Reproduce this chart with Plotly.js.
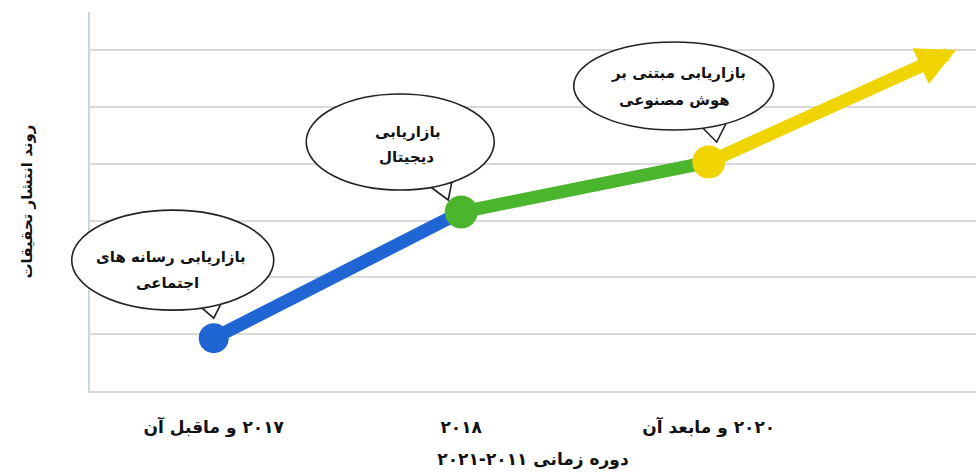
<!DOCTYPE html>
<html>
<head>
<meta charset="utf-8">
<script src="https://cdn.plot.ly/plotly-3.0.1.min.js"></script>
<style>html,body{margin:0;padding:0;background:#fff;}#chart{width:976px;height:476px;}</style>
</head>
<body>
<div id="chart"></div>
<script>
// ---- data ----
const categories = ['۲۰۱۷ و ماقبل آن', '۲۰۱۸', '۲۰۲۰ و مابعد آن'];
const trendValues = [0.93, 3.15, 4.03];
const arrowTipX = [3];
const arrowTipY = [6.0];
const stageColors = ['#1f66d4', '#4cb52e', '#f0d400'];
const bubbleLine1 = ['بازاریابی رسانه های', 'بازاریابی', 'بازاریابی مبتنی بر'];
const bubbleLine2 = ['اجتماعی', 'دیجیتال', 'هوش مصنوعی'];
const xTitle = 'دوره زمانی ۲۰۱۱-۲۰۲۱';
const yTitle = 'روند انتشار تحقیقات';

const xs = categories.map((_, i) => i);
const FONT = 'DejaVu Sans, Arial, sans-serif';
const RLM = '\u200F';
const xRange = [-0.5, 3.08];
const yRange = [0, 6.67];
const toPaperX = v => (v - xRange[0]) / (xRange[1] - xRange[0]);
const toPaperY = v => (v - yRange[0]) / (yRange[1] - yRange[0]);

// line segments
const traces = [];
for (let i = 0; i < xs.length - 1; i++) {
  traces.push({
    x: [xs[i], xs[i + 1]], y: [trendValues[i], trendValues[i + 1]],
    mode: 'lines', line: {color: stageColors[i], width: 13},
    hoverinfo: 'skip', showlegend: false
  });
}
traces.push({
  x: xs, y: trendValues, mode: 'markers',
  marker: {color: stageColors, size: [30, 33, 33], opacity: 1, line: {width: 0}},
  showlegend: false, hoverinfo: 'skip'
});

// bubble geometry (pixel offsets relative to each point, +y up)
const bub = [
  {cx: -41, cy: 78, rx: 101, ry: 50, tail: [[-21, 38], [0, 20], [11, 42]], t1: [-43, 81], t2: [-46, 55]},
  {cx: -61, cy: 70, rx: 94, ry: 48, tail: [[-40, 32], [-13, 12], [-8, 37]], t1: [-53, 80], t2: [-55, 55]},
  {cx: -35, cy: 76, rx: 100, ry: 44, tail: [[-12, 40], [8, 20], [21, 46]], t1: [-30, 89], t2: [-34, 62]}
];

const shapes = [];
const annotations = [];
xs.forEach((xv, i) => {
  const b = bub[i];
  const p = b.tail;
  const ax = toPaperX(xv), ay = toPaperY(trendValues[i]);
  shapes.push({
    type: 'path', layer: 'above', xref: 'paper', yref: 'paper',
    xsizemode: 'pixel', ysizemode: 'pixel', xanchor: ax, yanchor: ay,
    path: `M${p[0][0]},${p[0][1]} L${p[1][0]},${p[1][1]} L${p[2][0]},${p[2][1]} Z`,
    fillcolor: '#ffffff', line: {color: '#222', width: 1.6}
  });
  shapes.push({
    type: 'circle', layer: 'above', xref: 'paper', yref: 'paper',
    xsizemode: 'pixel', ysizemode: 'pixel', xanchor: ax, yanchor: ay,
    x0: b.cx - b.rx, x1: b.cx + b.rx, y0: b.cy - b.ry, y1: b.cy + b.ry,
    fillcolor: '#ffffff', line: {color: '#222', width: 1.6}
  });
  [[bubbleLine1[i], b.t1], [bubbleLine2[i], b.t2]].forEach(([txt, off]) => {
    annotations.push({
      x: xv, y: trendValues[i], xref: 'x', yref: 'y', text: '<b>' + txt + '</b>',
      showarrow: false, xshift: off[0], yshift: off[1],
      font: {family: FONT, size: 15, color: '#111'}
    });
  });
});

// yellow arrow
const last = xs.length - 1;
annotations.push({
  x: arrowTipX[0], y: arrowTipY[0], xref: 'x', yref: 'y',
  ax: xs[last], ay: trendValues[last], axref: 'x', ayref: 'y',
  text: '', showarrow: true, arrowhead: 2, arrowsize: 0.6, arrowwidth: 13,
  arrowcolor: stageColors[last], standoff: 0, startstandoff: 0
});

const layout = {
  width: 976, height: 476, autosize: false,
  margin: {l: 90, r: 0, t: 12, b: 85},
  paper_bgcolor: '#ffffff', plot_bgcolor: '#ffffff',
  font: {family: FONT, color: '#111'},
  showlegend: false,
  xaxis: {
    range: xRange, tickvals: xs, ticktext: categories.map(c => '<b>' + RLM + c + '</b>'),
    showgrid: false, zeroline: false, showline: true, linecolor: '#d8d8d8', linewidth: 2,
    ticks: '', ticklabelstandoff: 20, tickfont: {family: FONT, size: 17, color: '#111'},
    title: {text: '<b>' + RLM + xTitle + '</b>', font: {family: FONT, size: 17, color: '#111'}, standoff: 16},
    fixedrange: true
  },
  yaxis: {
    range: yRange, dtick: 1, showticklabels: false, ticks: '',
    showgrid: true, gridcolor: '#d9d9d9', gridwidth: 2, zeroline: false,
    showline: true, linecolor: '#c9d5e8', linewidth: 2,
    title: {text: '<b>' + yTitle + '</b>', font: {family: FONT, size: 15, color: '#111'}, standoff: 52},
    fixedrange: true
  },
  shapes: shapes,
  annotations: annotations
};

Plotly.newPlot('chart', traces, layout, {displayModeBar: false, staticPlot: true});
</script>
</body>
</html>
